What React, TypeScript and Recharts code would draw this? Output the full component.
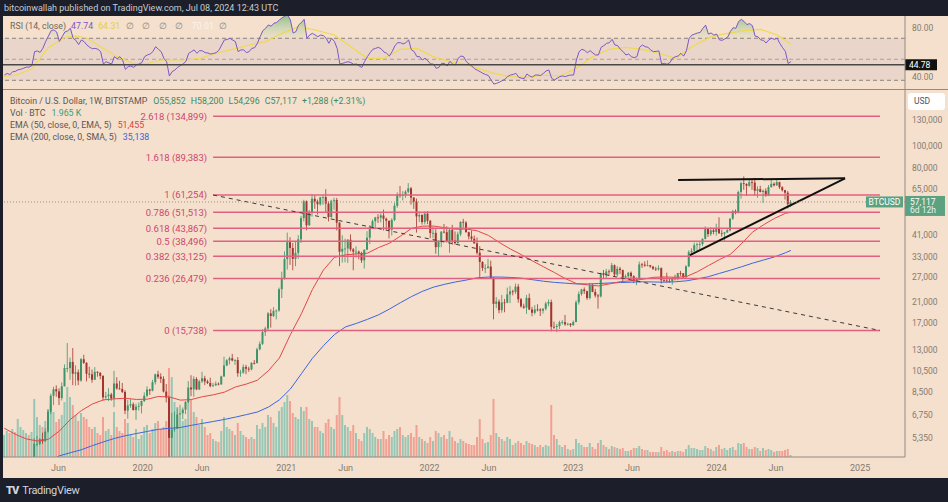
import React from 'react';
import { ComposedChart, Bar, Line, Area, XAxis, YAxis, ReferenceLine, ReferenceArea, Cell } from 'recharts';

const FONT = 'Roboto, "Noto Sans", sans-serif';

// weekly candles, Bitstamp BTC/USD, week of Jan 14 2019 -> week of Jul 8 2024
const FIRST_OPEN = 3510;

const closes2019 = [
  3530, 3530, 3410, 3630, 3620, 3780, 3800, 3900, 3990, 3980, 4090,
  5050, 5050, 5290, 5180, 5710, 6970, 8180, 8730, 8550, 7990,
  8990, 10800, 10800, 11480, 10200, 10350, 9530, 11800, 11380, 10200,
  10140, 9600, 10400, 10300, 9980, 8050, 8150, 8280, 7960, 9250,
  8800, 8750, 8500, 7050, 7420, 7510, 7090, 7330, 7390, 7760,
];
const highs2019 = [
  3740, 3650, 3560, 3690, 3700, 4200, 3900, 3950, 4000, 4080, 4150,
  5350, 5470, 5350, 5650, 5900, 7100, 8350, 8950, 9080, 8820,
  9350, 11200, 13880, 12000, 13200, 11100, 10650, 11950, 12330, 11450,
  10950, 10650, 10900, 10450, 10350, 10050, 8500, 8820, 8420, 10500,
  9850, 9500, 9300, 8650, 7850, 7900, 7650, 7550, 7650, 7800,
];
const lows2019 = [
  3480, 3470, 3370, 3390, 3580, 3600, 3680, 3700, 3800, 3900, 3940,
  4080, 4930, 4980, 5050, 5150, 5650, 6800, 7450, 8100, 7450,
  7800, 8980, 10350, 9600, 9100, 9050, 9100, 9420, 11250, 9450,
  9750, 9320, 9580, 9900, 9650, 7800, 7900, 7750, 7780, 7300,
  8700, 8700, 8400, 6800, 6500, 7250, 7050, 6430, 7050, 6850,
];

const closes2020 = [
  8180, 8700, 8600, 9370, 10140, 9900, 9700, 8530, 8030, 5360,
  5830, 5880, 6780, 6860, 7120, 7690, 8880, 8720, 9680, 8720,
  9450, 9750, 9440, 9300, 9010, 9070, 9230, 9160, 9930, 11080,
  11680, 11910, 11650, 11700, 10260, 10330, 10920, 10730, 10660, 11370,
  11360, 13030, 13760, 15480, 16060, 18680, 18200, 19150, 19240, 23800,
  26440, 32200,
];
const highs2020 = [
  8460, 9000, 8770, 9600, 10200, 10500, 10250, 9950, 9200, 8180,
  6900, 6980, 7200, 7470, 7280, 7750, 9480, 10050, 9950, 9850,
  9600, 10400, 9990, 9600, 9800, 9300, 9450, 9350, 10000, 12100,
  11800, 12100, 12450, 11800, 12050, 10600, 11200, 11150, 10950, 11450,
  11700, 13250, 14100, 15950, 16350, 18950, 19500, 19900, 19450, 24200,
  28400, 34800,
];
const lows2020 = [
  7680, 8050, 8250, 8550, 9150, 9700, 9300, 8450, 7650, 3850,
  4450, 5700, 5860, 6600, 6460, 6800, 7600, 8150, 8100, 8650,
  8650, 9300, 9100, 9200, 8900, 8950, 9050, 9080, 9150, 9900,
  11000, 11200, 11550, 11150, 9900, 9900, 10200, 10150, 10400, 10550,
  11200, 11300, 12900, 13600, 14900, 15800, 16200, 18000, 17600, 19000,
  21800, 26200,
];

const closes2021 = [
  38150, 36000, 32270, 34270, 39260, 48600, 57500, 45200, 51200, 59000,
  57350, 55800, 59800, 60000, 56200, 49100, 57800, 58250, 46400, 34700,
  35700, 35800, 39100, 35500, 34700, 34700, 34250, 31800, 35400, 39900,
  44600, 47100, 48900, 48800, 49900, 48300, 47300, 43200, 47700, 55000,
  61500, 61300, 61300, 63300, 65500, 59700, 57300, 49400, 50100, 46700,
  50800, 47300,
];
const highs2021 = [
  42000, 40100, 37900, 38500, 40950, 49700, 58350, 58000, 52650, 61700,
  61200, 58500, 60200, 61200, 64900, 57500, 58400, 59600, 59500, 46600,
  40900, 39500, 39400, 41300, 36000, 36600, 35100, 34650, 35400, 42600,
  45300, 47900, 49200, 50500, 51000, 52900, 48800, 47400, 48500, 56600,
  62900, 67000, 63700, 64300, 69000, 66400, 59900, 59100, 51900, 50500,
  51900, 52100,
];
const lows2021 = [
  29000, 30400, 28800, 30000, 32300, 37900, 47000, 43000, 45000, 49300,
  53300, 50400, 55000, 55500, 51200, 47000, 48700, 52900, 42900, 30000,
  31100, 31200, 31000, 34800, 28800, 32700, 32100, 31000, 29300, 35200,
  37400, 43700, 43900, 46300, 46500, 42900, 43300, 39600, 40800, 47100,
  53900, 59600, 58000, 59500, 62300, 55600, 53300, 42000, 46700, 45500,
  45600, 45700,
];

const closes2022 = [
  41800, 41900, 36300, 38200, 42400, 42200, 38400, 43200, 38800, 37800,
  41300, 46800, 46400, 42200, 40400, 39500, 37700, 34300, 31300, 29450,
  29470, 29900, 26600, 20550, 21030, 19300, 20850, 20800, 22600, 23300,
  23180, 24440, 21530, 20050, 19800, 21820, 19420, 18800, 19430, 19420,
  19210, 19570, 20630, 20920, 16330, 16300, 16460, 17100, 17100, 16740,
  16840, 16610,
];
const highs2022 = [
  47600, 44500, 43500, 38900, 42600, 45800, 44700, 43800, 45400, 42500,
  42400, 47000, 48200, 47200, 42400, 42900, 40800, 40000, 36700, 31500,
  30600, 32300, 31700, 26900, 22000, 21500, 22500, 21600, 24200, 24600,
  23700, 25200, 25100, 21800, 20600, 22500, 22800, 19950, 20300, 20480,
  19700, 19700, 21000, 21480, 21450, 17200, 16800, 17350, 17450, 18400,
  17000, 16950,
];
const lows2022 = [
  39700, 39700, 34000, 33000, 36300, 41700, 38000, 34300, 37200, 37200,
  37600, 40500, 44200, 42000, 39200, 38600, 37600, 33700, 26700, 28600,
  28000, 29300, 26500, 17600, 19700, 18700, 18800, 18900, 20700, 20700,
  22400, 22700, 20800, 19800, 19550, 18600, 19300, 18150, 18500, 19050,
  18200, 18650, 19250, 20050, 15600, 16000, 15480, 16000, 16700, 16500,
  16550, 16300,
];

const closes2023 = [
  17130, 20880, 22700, 23750, 23350, 21790, 24630, 23170, 22350, 22150,
  28000, 27480, 28460, 28330, 30300, 27590, 29240, 28860, 26780, 27120,
  28080, 27120, 25840, 26340, 30530, 30470, 30170, 30290, 29870, 29240,
  29060, 29410, 26060, 26000, 25840, 25830, 26560, 26540, 27980, 27920,
  26860, 29950, 34520, 35010, 37050, 37370, 37450, 39450, 43990, 41350,
  43000, 42280,
];
const highs2023 = [
  17400, 21300, 23300, 23900, 24250, 23450, 25250, 25100, 23900, 22700,
  28100, 28900, 29200, 29000, 31000, 30500, 30000, 29800, 29000, 27600,
  28300, 28450, 27400, 26800, 31400, 31000, 31500, 31800, 30400, 30000,
  29800, 30250, 29650, 26800, 28100, 26500, 26900, 27500, 28000, 28600,
  28000, 30300, 35200, 35900, 37950, 37950, 38400, 39650, 44700, 44000,
  44300, 43800,
];
const lows2023 = [
  16500, 17100, 20400, 22300, 22700, 21400, 21500, 23100, 21900, 19600,
  21900, 26600, 26500, 27200, 28200, 27100, 27000, 27700, 25800, 26300,
  26100, 26600, 25300, 24800, 26300, 29500, 29800, 29950, 29500, 28900,
  28600, 28700, 25200, 25500, 25400, 25400, 24900, 26000, 26000, 27200,
  26600, 26600, 29700, 33900, 34500, 34800, 35600, 36700, 39200, 40200,
  40600, 41300,
];

const closes2024 = [
  43950, 41700, 41580, 42100, 43000, 48300, 52100, 51730, 63100, 68950,
  68400, 67200, 69650, 69360, 63900, 64940, 63100, 63900, 60830, 66270,
  68510, 67540, 69650, 66200, 64260, 62700, 55852, 57117,
];
const highs2024 = [
  45900, 48950, 43200, 42300, 43850, 48500, 52800, 53000, 64000, 70000,
  73800, 68900, 71700, 71300, 72700, 66800, 67200, 64700, 65500, 67700,
  71950, 69500, 71900, 70000, 66900, 64500, 63800, 58200,
];
const lows2024 = [
  40700, 41500, 40300, 38500, 41800, 42500, 47700, 50500, 50900, 59000,
  64500, 60800, 66500, 64500, 60700, 59600, 62800, 56500, 60200, 60600,
  66000, 66700, 67100, 65100, 63400, 58500, 53500, 54296,
];

// weekly volume, thousand BTC
const volumes = [
  22, 26, 24, 28, 25, 38, 30, 27, 24, 22, 25, 58, 40, 32, 30, 36, 48, 52, 45, 35, 38,
  42, 55, 70, 60, 52, 42, 36, 44, 40, 38, 30, 28, 30, 24, 22, 40, 26, 28, 22, 45,
  30, 26, 24, 38, 34, 22, 20, 28, 18, 22,
  30, 32, 24, 28, 34, 36, 28, 30, 36, 89, 80, 55, 50, 40, 36, 38, 60, 58, 45, 40,
  32, 38, 30, 22, 24, 18, 16, 15, 26, 40, 30, 28, 26, 22, 34, 26, 22, 20, 18, 20,
  18, 32, 28, 34, 30, 42, 40, 34, 30, 46, 50, 55,
  62, 56, 44, 40, 38, 50, 46, 50, 38, 36, 30, 30, 26, 24, 34, 38, 30, 28, 42, 60,
  42, 32, 30, 26, 32, 24, 18, 16, 24, 30, 28, 24, 20, 18, 18, 26, 18, 22, 20, 26,
  28, 30, 22, 20, 22, 24, 20, 32, 20, 18, 16, 14,
  20, 16, 26, 24, 20, 22, 18, 26, 20, 16, 14, 18, 16, 14, 13, 12, 12, 20, 38, 18,
  14, 15, 22, 58, 24, 20, 18, 16, 20, 18, 12, 14, 16, 14, 12, 16, 14, 13, 12, 10,
  12, 10, 12, 11, 52, 22, 18, 12, 10, 12, 8, 7,
  8, 18, 14, 12, 10, 10, 14, 10, 8, 14, 17, 12, 10, 8, 11, 10, 9, 8, 9, 6,
  6, 7, 9, 9, 11, 8, 7, 7, 5, 5, 5, 5, 10, 6, 7, 5, 6, 5, 6, 6,
  5, 8, 12, 9, 9, 8, 7, 7, 11, 9, 8, 6,
  10, 12, 8, 9, 7, 9, 10, 7, 14, 13, 14, 10, 8, 8, 10, 9, 6, 9, 7, 8,
  7, 5, 6, 6, 6, 7, 8, 1.965,
];

// RSI(14) weekly
const rsiValues = [
  35, 36.5, 35.5, 38, 38.5, 40, 40.5, 41.5, 42.5, 42.5, 44,
  57.3, 57.9, 56.5, 60.5, 66.8, 72, 77.3, 78, 76, 67,
  71.5, 76, 77, 79.5, 70, 68, 64, 68.4, 66.8, 63.6,
  61.5, 60, 60.4, 59.5, 57.3, 45.5, 47.7, 46.5, 45.5, 52.5,
  50.5, 52.5, 49.3, 40.4, 43, 43.6, 42.3, 44.5, 45.5, 47,
  52.5, 54.1, 55, 57.3, 62, 59.5, 57.3, 51, 47.7, 34.1,
  38.2, 39.8, 42.3, 44, 45.5, 48, 55.5, 57.3, 58.9, 55.7,
  58.2, 58, 56.3, 56, 55, 55.5, 56.3, 58.5, 63.6, 68.4,
  68.8, 70, 68.4, 66.8, 57.3, 58.9, 59, 56.3, 57.3, 60.4,
  61, 65.2, 71.5, 77.3, 79.5, 82.7, 81.5, 84.3, 85, 87.4,
  89.5, 91.2,
  92, 87.4, 75, 76.3, 82.7, 84.9, 88.1, 70, 73.1, 74.7,
  73.1, 71.5, 73.1, 72.5, 70, 65.2, 70, 67, 60.4, 45.5,
  46.1, 47, 47.7, 46.8, 45.2, 45.5, 43.6, 42.3, 48, 52.5,
  56.3, 59.5, 60.4, 61.4, 60, 57, 55.7, 53.1, 57.3, 62.7,
  65.8, 65.8, 64.6, 65.8, 68.4, 59, 57.3, 52.5, 52.5, 49.3,
  51, 48.5,
  45.5, 45.5, 41.4, 42.3, 46.1, 46.1, 43.6, 48, 45.5, 44.6,
  50.9, 53.1, 52.5, 47.7, 45.5, 43.5, 41, 39.5, 38.2, 36.6,
  35.5, 34.5, 30.3, 26.4, 27.1, 28.2, 29.6, 31, 33.5, 35,
  35.5, 36.6, 33, 32, 31.5, 36, 34.1, 33, 35, 35,
  34.5, 36.6, 38.9, 39.8, 31.9, 30.3, 31.9, 33.5, 34.1, 33.5,
  34.5, 35,
  35, 49.3, 57.3, 59.5, 58.5, 56.3, 58.2, 56, 54.1, 54.1,
  61.4, 63, 65.2, 65.8, 69, 63.6, 63, 59.5, 57.3, 54.1,
  55, 52.5, 51.5, 52.5, 61.4, 63.6, 62, 61.4, 59, 57.3,
  57.5, 58, 45.5, 46.1, 45.2, 46.8, 50.9, 52.5, 53.1, 55.7,
  53, 58, 70, 73, 74, 75, 75.5, 79.5, 82.5, 74,
  75, 73,
  74, 68.5, 68, 69.5, 71, 76.5, 80, 79.5, 86, 88,
  86, 83, 84, 82, 72, 71.5, 68.5, 68, 65.5, 68.5,
  70, 69, 70, 65, 61, 57.5, 46, 47.74,
];

// moving averages read every fourth week
const maWeeks = [...Array.from({ length: 72 }, (_, k) => k * 4), 286];
const ema50Values = [
  5903, 5555, 5306, 5196, 5288, 5742, 6453, 7050, 7531, 7844,
  7930, 7977, 7882, 7905, 8120, 8080, 7830, 7875, 8100, 8260,
  8480, 8930, 9200, 9560, 10510, 11940, 15100, 18610, 23730, 28840,
  32770, 33600, 33950, 34170, 36130, 37750, 40540, 43780, 44800, 44880,
  44140, 43460, 43560, 42720, 40840, 38020, 35640, 33660, 31630, 29830,
  28150, 26480, 25210, 24870, 24600, 25110, 25690, 25920, 26290, 26820,
  26930, 26820, 27030, 28360, 30170, 32030, 33780, 37550, 42150, 45370,
  48410, 50950, 51455,
];
const ema200Values = [
  3700, 3800, 3900, 4000, 4200, 4480, 4620, 4760, 4960, 5150,
  5330, 5480, 5600, 5720, 5840, 5900, 5950, 6080, 6200, 6320,
  6450, 6600, 6770, 6950, 7300, 7850, 8750, 10200, 11900, 13500,
  15100, 16300, 16900, 17600, 18400, 19500, 20800, 22100, 23300, 24300,
  25000, 25600, 26100, 26700, 26900, 26900, 26800, 26600, 26200, 25800,
  25500, 25300, 25100, 25100, 25200, 25350, 25450, 25550, 25650, 25600,
  25550, 25650, 25900, 26400, 27000, 27900, 28800, 29800, 30900, 31900,
  32900, 34300, 35138,
];
const rsiMaWeeks = [
  0, 5, 10, 16, 22, 26, 30, 35, 41, 47, 52, 57, 61, 66, 71, 77, 83, 89, 95, 101,
  107, 113, 120, 126, 132, 138, 144, 150, 156, 162, 167, 172, 178, 184, 190, 196, 202, 208, 214, 220,
  226, 232, 238, 244, 250, 257, 263, 269, 275, 281, 286,
];
const rsiMaValues = [
  33.5, 35.5, 41, 61, 71, 72.2, 70, 62, 52.5, 46, 46, 49.3, 49.3, 49.3, 50.9, 55.7, 59.5, 63.6, 66.8, 74.7,
  81, 77.9, 73.1, 62, 50.9, 50.9, 59.5, 60.4, 52.5, 47.7, 46, 41.4, 36.6, 33.5, 32.8, 35, 34.1, 41.4, 52.5, 59.5,
  61.4, 59.5, 55.7, 50.9, 62, 71.5, 74.7, 77.3, 78.5, 73.1, 64.31,
];

const tickWeeks = [19.7, 50.3, 71.9, 102.5, 124.1, 154.6, 176.2, 206.8, 228.4, 259.0, 280.6, 311.2];
const tickLabels = ['Jun', '2020', 'Jun', '2021', 'Jun', '2022', 'Jun', '2023', 'Jun', '2024', 'Jun', '2025'];
const priceTicks = [5350, 6750, 8500, 10500, 13000, 17000, 21000, 27000, 33000, 41000, 65000, 80000, 100000, 130000];
const rsiTicks = [40, 60, 80];

const fibRatios = ['2.618', '1.618', '1', '0.786', '0.618', '0.5', '0.382', '0.236', '0'];
const fibPrices = [134899, 89383, 61254, 51513, 43867, 38496, 33125, 26479, 15738];
const FIB_X0 = 75.9;
const FIB_X1 = 318.4;
const triangleTop = [{ x: 245.0, y: 71200 }, { x: 305.7, y: 72400 }];
const triangleBottom = [{ x: 249.3, y: 33530 }, { x: 305.7, y: 72400 }];

const LAST_PRICE = 57117;
const LAST_RSI = 44.78;

const closes = [...closes2019, ...closes2020, ...closes2021, ...closes2022, ...closes2023, ...closes2024];
const highs = [...highs2019, ...highs2020, ...highs2021, ...highs2022, ...highs2023, ...highs2024];
const lows = [...lows2019, ...lows2020, ...lows2021, ...lows2022, ...lows2023, ...lows2024];

const ema50Map = new Map(maWeeks.map((w, k) => [w, ema50Values[k]]));
const ema200Map = new Map(maWeeks.map((w, k) => [w, ema200Values[k]]));
const rsiMaMap = new Map(rsiMaWeeks.map((w, k) => [w, rsiMaValues[k]]));

const data = closes.map((close, i) => {
  const open = i === 0 ? FIRST_OPEN : closes[i - 1];
  const rsi = rsiValues[i];
  return {
    i,
    open,
    close,
    high: highs[i],
    low: lows[i],
    range: [lows[i], highs[i]],
    vol: volumes[i],
    up: close >= open,
    ema50: ema50Map.has(i) ? ema50Map.get(i) : null,
    ema200: ema200Map.has(i) ? ema200Map.get(i) : null,
    rsi,
    rsiFill: [70, Math.max(70, rsi)],
    rsiMa: rsiMaMap.has(i) ? rsiMaMap.get(i) : null,
  };
});

const BG = '#f4e0cc';
const DARK = '#1c1f29';
const DIVIDER = '#958a80';
const AXIS_TEXT = '#857b71';
const UP = '#3f946b';
const DOWN = '#a3352f';
const FIB = '#e2607f';
const FIB_TEXT = '#cf4670';
const TAG = '#5ca281';
const X_DOMAIN = [-0.5, 327.5];

const Candle = (props: any) => {
  const { x, y, width, height, payload } = props;
  if (!payload || height == null) return null;
  const { open, close, high, low } = payload;
  const color = close >= open ? UP : DOWN;
  const lh = Math.log(high);
  const span = lh - Math.log(low) || 1;
  const yOf = (v: number) => y + (height * (lh - Math.log(v))) / span;
  const top = yOf(Math.max(open, close));
  const bot = yOf(Math.min(open, close));
  const cx = x + width / 2;
  return (
    <g>
      <line x1={cx} x2={cx} y1={y} y2={y + height} stroke={color} strokeWidth={0.8} />
      <rect x={x} y={top} width={width} height={Math.max(0.8, bot - top)} fill={color} />
    </g>
  );
};

// the 40.00 label sits just under the 44.78 tag
const RsiTick = (props: any) => {
  const { x, y, payload } = props;
  const shift = payload.value === 40 ? 7 : 0;
  return (
    <text x={x} y={y + shift} dy="0.355em" fontSize={8.5} fill={AXIS_TEXT} textAnchor="start">
      {Number(payload.value).toFixed(2)}
    </text>
  );
};

const PriceTag = (props: any) => {
  const { viewBox } = props;
  if (!viewBox) return null;
  const right = viewBox.x + viewBox.width;
  const y = viewBox.y;
  return (
    <g style={{ fontFamily: FONT }}>
      <rect x={right - 39} y={y - 5.5} width={37} height={11} fill={TAG} />
      <text x={right - 20.5} y={y + 3} textAnchor="middle" fontSize={8.5} fill="#ffffff">BTCUSD</text>
      <rect x={right} y={y - 6} width={40} height={20} fill={TAG} />
      <text x={right + 5} y={y + 3} fontSize={8.5} fill="#ffffff">57,117</text>
      <text x={right + 5} y={y + 11.5} fontSize={8.5} fill="#e8f3ec">6d 12h</text>
    </g>
  );
};

const RsiTag = (props: any) => {
  const { viewBox } = props;
  if (!viewBox) return null;
  const right = viewBox.x + viewBox.width;
  const y = viewBox.y;
  return (
    <g style={{ fontFamily: FONT }}>
      <rect x={right} y={y - 5.5} width={32} height={11} fill="#111111" />
      <text x={right + 4} y={y + 3} fontSize={8.5} fill="#ffffff">44.78</text>
    </g>
  );
};

const text = (color: string, extra: any = {}) => ({ color, ...extra });

export default function App() {
  return (
    <div style={{ position: 'absolute', left: 0, top: 0, width: 948, height: 502, background: DARK, fontFamily: FONT, overflow: 'hidden' }}>
      <div style={{ position: 'absolute', left: 4, top: 0, height: 16, lineHeight: '16px', fontSize: 9, color: '#c8cbd3' }}>
        bitcoinwallah published on TradingView.com, Jul 08, 2024 12:43 UTC
      </div>

      <div style={{ position: 'absolute', left: 3, top: 16, width: 945, height: 462, background: BG }} />

      {/* RSI pane */}
      <div style={{ position: 'absolute', left: 3, top: 16 }}>
        <ComposedChart width={945} height={73} data={data} margin={{ top: 0, right: 0, bottom: 0, left: 0 }}>
          <defs>
            <linearGradient id="rsiGreen" x1="0" y1="0" x2="0" y2="1">
              <stop offset="0%" stopColor="#2f9e4a" stopOpacity={0.85} />
              <stop offset="100%" stopColor="#9fd3a0" stopOpacity={0.15} />
            </linearGradient>
          </defs>
          <XAxis dataKey="i" type="number" domain={X_DOMAIN} hide />
          <YAxis
            orientation="right"
            width={43}
            domain={[21.7, 91.2]}
            allowDataOverflow
            ticks={rsiTicks}
            tick={(p: any) => <RsiTick {...p} />}
            tickLine={false}
            tickSize={0}
            tickMargin={7}
            axisLine={{ stroke: DIVIDER }}
          />
          <ReferenceArea y1={30} y2={70} fill="#7e57c2" fillOpacity={0.08} stroke="none" />
          <ReferenceLine y={70} stroke="#8c847c" strokeDasharray="4 3" />
          <ReferenceLine y={50} stroke="#aba29a" strokeDasharray="4 3" />
          <ReferenceLine y={30} stroke="#8c847c" strokeDasharray="4 3" />
          <Area dataKey="rsiFill" stroke="none" fill="url(#rsiGreen)" isAnimationActive={false} />
          <Line dataKey="rsiMa" stroke="#efd94e" strokeWidth={1.2} dot={false} connectNulls isAnimationActive={false} />
          <Line dataKey="rsi" stroke="#7e57c2" strokeWidth={1} dot={false} isAnimationActive={false} />
          <ReferenceLine y={LAST_RSI} stroke="#4a4644" strokeWidth={1.5} label={(p: any) => <RsiTag {...p} />} />
        </ComposedChart>
      </div>

      <div style={{ position: 'absolute', left: 10, top: 21, fontSize: 8.8, whiteSpace: 'nowrap', color: '#6e6660' }}>
        <span>RSI (14, close)</span>
        <span style={text('#7e57c2', { marginLeft: 5 })}>47.74</span>
        <span style={text('#e6cf3e', { marginLeft: 5 })}>64.31</span>
        <span style={text('#8a827a', { marginLeft: 6, letterSpacing: 3 })}>∅ ∅ ∅ ∅</span>
        <span style={text('#fbf5ef', { marginLeft: 6 })}>70.01</span>
        <span style={text('#8a827a', { marginLeft: 5 })}>∅</span>
      </div>

      <div style={{ position: 'absolute', left: 3, top: 89, width: 945, height: 1, background: DIVIDER }} />

      {/* price pane */}
      <div style={{ position: 'absolute', left: 3, top: 89 }}>
        <ComposedChart width={945} height={389} data={data} margin={{ top: 0, right: 0, bottom: 0, left: 0 }}>
          <XAxis
            dataKey="i"
            type="number"
            domain={X_DOMAIN}
            ticks={tickWeeks}
            tickFormatter={(v: number) => tickLabels[tickWeeks.indexOf(v)]}
            height={21}
            tick={{ fontSize: 9, fill: AXIS_TEXT }}
            tickLine={false}
            tickSize={0}
            tickMargin={8}
            axisLine={{ stroke: DIVIDER }}
            interval={0}
          />
          <XAxis xAxisId="vx" dataKey="i" type="number" domain={X_DOMAIN} hide />
          <YAxis
            orientation="right"
            width={43}
            scale="log"
            domain={[4426, 177300]}
            allowDataOverflow
            ticks={priceTicks}
            tickFormatter={(v: number) => v.toLocaleString('en-US')}
            tick={{ fontSize: 8.5, fill: AXIS_TEXT }}
            tickLine={false}
            tickSize={0}
            tickMargin={7}
            axisLine={{ stroke: DIVIDER }}
            interval={0}
          />
          <YAxis yAxisId="vol" domain={[0, 368]} hide />
          <Bar dataKey="vol" xAxisId="vx" yAxisId="vol" barSize={2} isAnimationActive={false}>
            {data.map((d) => (
              <Cell key={d.i} fill={d.up ? '#26a69a' : '#ef5350'} fillOpacity={0.45} />
            ))}
          </Bar>
          <Bar dataKey="range" barSize={2} isAnimationActive={false} shape={(p: any) => <Candle {...p} />} />
          <Line dataKey="ema200" stroke="#3d66dd" strokeWidth={1} dot={false} connectNulls isAnimationActive={false} />
          <Line dataKey="ema50" stroke="#e4474a" strokeWidth={1} dot={false} connectNulls isAnimationActive={false} />
          {fibPrices.map((p, k) => (
            <ReferenceLine
              key={p}
              segment={[{ x: FIB_X0, y: p }, { x: FIB_X1, y: p }]}
              stroke={FIB}
              strokeWidth={1.5}
              label={{ value: `${fibRatios[k]} (${p.toLocaleString('en-US')})`, position: 'left', fill: FIB_TEXT, fontSize: 9.5, offset: 6 }}
            />
          ))}
          <ReferenceLine
            segment={[{ x: FIB_X0, y: fibPrices[2] }, { x: FIB_X1, y: fibPrices[8] }]}
            stroke="#3c3a38"
            strokeDasharray="4 4"
            strokeWidth={1}
          />
          <ReferenceLine segment={triangleTop} stroke="#111111" strokeWidth={2} />
          <ReferenceLine segment={triangleBottom} stroke="#111111" strokeWidth={2} />
          <ReferenceLine y={LAST_PRICE} stroke="#9a928a" strokeDasharray="1 2" label={(p: any) => <PriceTag {...p} />} />
        </ComposedChart>
      </div>

      <div style={{ position: 'absolute', left: 10, top: 95, fontSize: 8.8, lineHeight: '12px', whiteSpace: 'nowrap', color: '#5e5752' }}>
        <div>
          <span>Bitcoin / U.S. Dollar, 1W, BITSTAMP</span>
          <span style={text('#3f8a63', { marginLeft: 6 })}>O55,852</span>
          <span style={text('#3f8a63', { marginLeft: 5 })}>H58,200</span>
          <span style={text('#3f8a63', { marginLeft: 5 })}>L54,296</span>
          <span style={text('#3f8a63', { marginLeft: 5 })}>C57,117</span>
          <span style={text('#3f8a63', { marginLeft: 5 })}>+1,288 (+2.31%)</span>
        </div>
        <div>
          <span>Vol · BTC</span>
          <span style={text('#35a178', { marginLeft: 6 })}>1.965 K</span>
        </div>
        <div>
          <span>EMA (50, close, 0, EMA, 5)</span>
          <span style={text('#e0413e', { marginLeft: 6 })}>51,455</span>
        </div>
        <div>
          <span>EMA (200, close, 0, SMA, 5)</span>
          <span style={text('#3a63d8', { marginLeft: 6 })}>35,138</span>
        </div>
      </div>

      <div style={{ position: 'absolute', left: 908, top: 93, width: 37, height: 17, background: '#ffffff', borderRadius: 3, fontSize: 8.5, lineHeight: '17px', color: '#55504c', paddingLeft: 6, boxSizing: 'border-box' }}>
        USD
      </div>

      <div style={{ position: 'absolute', left: 6, top: 483, height: 16, lineHeight: '16px', fontSize: 11, color: '#d1d4dc', whiteSpace: 'nowrap' }}>
        <span style={{ fontWeight: 900, letterSpacing: -1, marginRight: 4 }}>TV</span>
        <span style={{ letterSpacing: -0.3 }}>TradingView</span>
      </div>
    </div>
  );
}
